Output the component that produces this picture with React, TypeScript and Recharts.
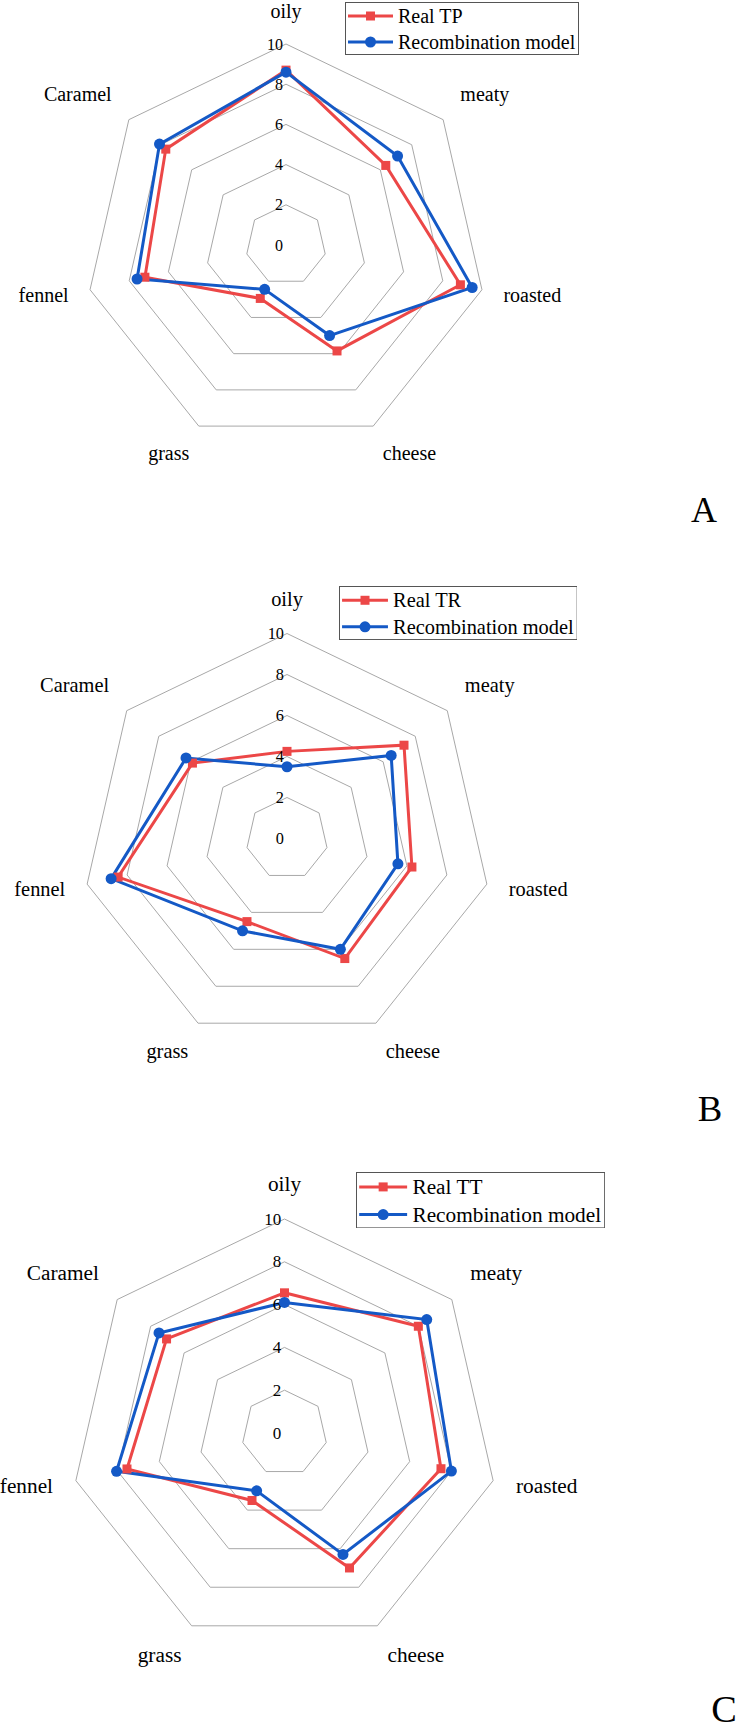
import React from "react";
import { RadarChart, Radar, PolarGrid, PolarAngleAxis, PolarRadiusAxis } from "recharts";

const attributes = ["oily", "meaty", "roasted", "cheese", "grass", "fennel", "Caramel"];
const realTP = [8.7, 6.35, 8.9, 5.85, 2.95, 7.2, 7.65];
const modelTP = [8.6, 7.1, 9.5, 5.0, 2.45, 7.6, 8.05];
const realTR = [4.25, 7.3, 6.25, 6.5, 4.5, 8.45, 5.9];
const modelTR = [3.5, 6.5, 5.55, 6.0, 5.0, 8.8, 6.3];
const realTT = [6.55, 8.0, 7.5, 7.0, 3.5, 7.55, 7.05];
const modelTT = [6.1, 8.5, 8.0, 6.3, 3.0, 8.05, 7.5];
const radiusTicks = [0, 2, 4, 6, 8, 10];
const modelName = "Recombination model";

const RED = "#ec4747";
const BLUE = "#1459c6";
const GRID = "#a8a8a8";
const FONT = '"Liberation Serif", "Times New Roman", serif';

const panels = [
  { letter: "A", realName: "Real TP", real: realTP, model: modelTP, top: 0, cx: 286, cy: 245, r: 201, k: 1, legend: { x: 345, y: 2 }, letterPos: { x: 704, y: 522 } },
  { letter: "B", realName: "Real TR", real: realTR, model: modelTR, top: 580, cx: 287, cy: 258.5, r: 205, k: 1.02, legend: { x: 338.5, y: 585.5 }, letterPos: { x: 710, y: 1121 } },
  { letter: "C", realName: "Real TT", real: realTT, model: modelTT, top: 1151, cx: 284.5, cy: 282, r: 214, k: 1.065, legend: { x: 356, y: 1171.5 }, letterPos: { x: 724, y: 1722 } },
];

const SquareDot = (props: any) => {
  const { cx, cy, index } = props;
  if (cx == null || cy == null) return null;
  return <rect key={`sq-${index}`} x={cx - 4.5} y={cy - 4.5} width={9} height={9} fill={RED} />;
};

const CircleDot = (props: any) => {
  const { cx, cy, index } = props;
  if (cx == null || cy == null) return null;
  return <circle key={`ci-${index}`} cx={cx} cy={cy} r={5.5} fill={BLUE} />;
};

function makeAngleTick(cx: number, cy: number, r: number, k: number) {
  return (props: any) => {
    const { payload } = props;
    const a = (-payload.coordinate * Math.PI) / 180;
    const dx = Math.cos(a);
    const dy = Math.sin(a);
    const d = r + 22 * k;
    const x = cx + d * dx;
    const y = cy + d * dy;
    const anchor = dx > 0.1 ? "start" : dx < -0.1 ? "end" : "middle";
    // place the text box so its nearest edge sits on the point
    let ty = y + 7 * k;
    if (dy < -0.4) ty = y - 4.5 * k;
    else if (dy > 0.4) ty = y + 14.5 * k;
    return (
      <text x={x} y={ty} textAnchor={anchor} fontSize={20 * k} fontFamily={FONT} fill="#000">
        {payload.value}
      </text>
    );
  };
}

function makeRadiusTick(k: number) {
  return (props: any) => {
    const { x, y, payload } = props;
    return (
      <text x={x - 3 * k} y={y} textAnchor="end" dominantBaseline="central" fontSize={16 * k} fontFamily={FONT} fill="#000">
        {payload.value}
      </text>
    );
  };
}

function LegendBox({ x, y, k, realName }: { x: number; y: number; k: number; realName: string }) {
  const w = 233 * k;
  const h = 52 * k;
  const rows = [
    { name: realName, color: RED, square: true, cy: 14 * k },
    { name: modelName, color: BLUE, square: false, cy: 40 * k },
  ];
  return (
    <svg style={{ position: "absolute", left: x, top: y }} width={w + 1} height={h + 1}>
      <rect x={0.5} y={0.5} width={w} height={h} fill="#fff" stroke="#555" strokeWidth={1} />
      {rows.map((row) => (
        <g key={row.name}>
          <line x1={3 * k} x2={48 * k} y1={row.cy} y2={row.cy} stroke={row.color} strokeWidth={3} />
          {row.square ? (
            <rect x={25.5 * k - 4.5} y={row.cy - 4.5} width={9} height={9} fill={row.color} />
          ) : (
            <circle cx={25.5 * k} cy={row.cy} r={5.5} fill={row.color} />
          )}
          <text x={53 * k} y={row.cy} dominantBaseline="central" fontSize={20 * k} fontFamily={FONT} fill="#000">
            {row.name}
          </text>
        </g>
      ))}
    </svg>
  );
}

function Panel({ p }: { p: (typeof panels)[number] }) {
  const data = attributes.map((attr, i) => ({ attr, real: p.real[i], model: p.model[i] }));
  return (
    <div style={{ position: "absolute", left: 0, top: p.top, width: 740, height: 580 }}>
      <RadarChart
        width={740}
        height={580}
        data={data}
        cx={p.cx}
        cy={p.cy}
        outerRadius={p.r}
        startAngle={90}
        endAngle={-270}
        margin={{ top: 0, right: 0, bottom: 0, left: 0 }}
      >
        <PolarGrid gridType="polygon" radialLines={false} stroke={GRID} strokeWidth={1} />
        <PolarAngleAxis dataKey="attr" axisLine={false} tickLine={false} tick={makeAngleTick(p.cx, p.cy, p.r, p.k)} />
        <PolarRadiusAxis
          angle={90}
          type="number"
          domain={[radiusTicks[0], radiusTicks[radiusTicks.length - 1]]}
          tickCount={radiusTicks.length}
          axisLine={false}
          tickLine={false}
          tick={makeRadiusTick(p.k)}
        />
        <Radar
          name={p.realName}
          dataKey="real"
          stroke={RED}
          strokeWidth={3}
          fill="none"
          fillOpacity={0}
          dot={SquareDot}
          isAnimationActive={false}
        />
        <Radar
          name={modelName}
          dataKey="model"
          stroke={BLUE}
          strokeWidth={3}
          fill="none"
          fillOpacity={0}
          dot={CircleDot}
          isAnimationActive={false}
        />
      </RadarChart>
    </div>
  );
}

export default function App() {
  return (
    <div style={{ position: "absolute", left: 0, top: 0, width: 740, height: 1731, background: "#fff", overflow: "hidden" }}>
      {panels.map((p) => (
        <Panel key={p.letter} p={p} />
      ))}
      {panels.map((p) => (
        <LegendBox key={`lg-${p.letter}`} x={p.legend.x} y={p.legend.y} k={p.k} realName={p.realName} />
      ))}
      <svg style={{ position: "absolute", left: 0, top: 0, pointerEvents: "none" }} width={740} height={1731}>
        {panels.map((p) => (
          <text key={`lt-${p.letter}`} x={p.letterPos.x} y={p.letterPos.y} textAnchor="middle" fontSize={36 * p.k} fontFamily={FONT} fill="#000">
            {p.letter}
          </text>
        ))}
      </svg>
    </div>
  );
}
